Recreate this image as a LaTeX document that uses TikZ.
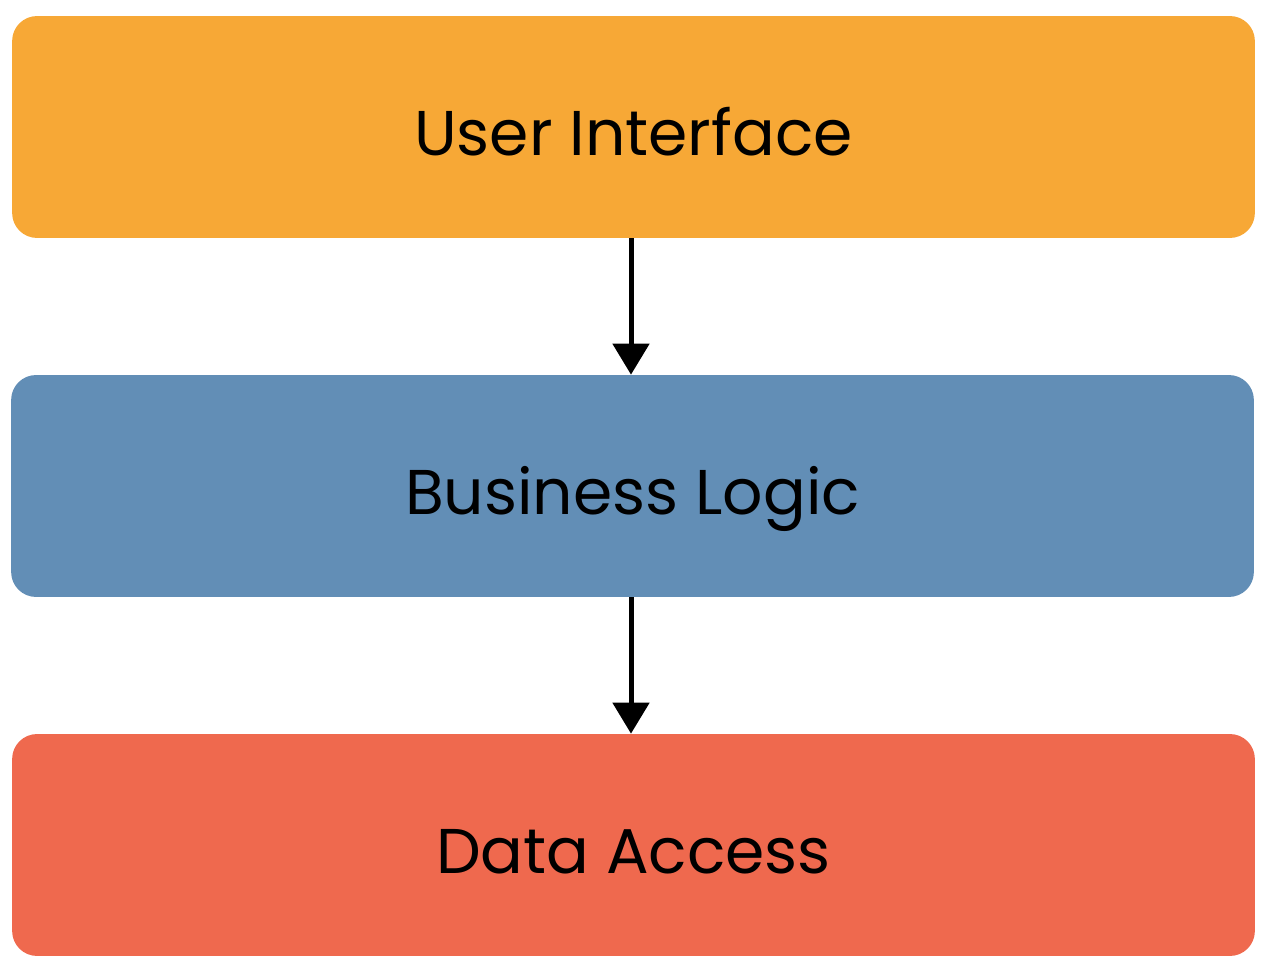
\documentclass[tikz,border=0pt]{standalone}
\usepackage{fontspec}
\setmainfont{Poppins}
\usetikzlibrary{arrows.meta}
\usetikzlibrary{calc}
\definecolor{uiorange}{HTML}{F7A836}
\definecolor{bizblue}{HTML}{628EB6}
\definecolor{datared}{HTML}{EF694E}

\begin{document}
\begin{tikzpicture}[x=0.02cm,y=-0.02cm]
    % Page frame
    \useasboundingbox (0,0) rectangle (1268,972);

    \tikzset{layer/.style={rounded corners=0.5cm,minimum width=24.86cm,minimum height=4.44cm,
        inner sep=0pt,font=\fontsize{36}{43}\selectfont,text=black,text height=1.24cm,text depth=0.08cm}}
    \tikzset{flow/.style={line width=2.85pt,-{Triangle[width=0.72cm,length=0.62cm]}}}

   \node[layer,fill=uiorange] (ui) at (633.5,127) {User Interface};
   \node[layer,fill=bizblue] (bl) at (632.5,486) {Business Logic};
   \node[layer,fill=datared] (da) at (633.5,845) {Data Access};

	\draw[flow] (ui.south -| 631,0) -- (bl.north -| 631,0);
    \draw[flow] (bl.south -| 631,0) -- (da.north -| 631,0);

\end{tikzpicture}
\end{document}
